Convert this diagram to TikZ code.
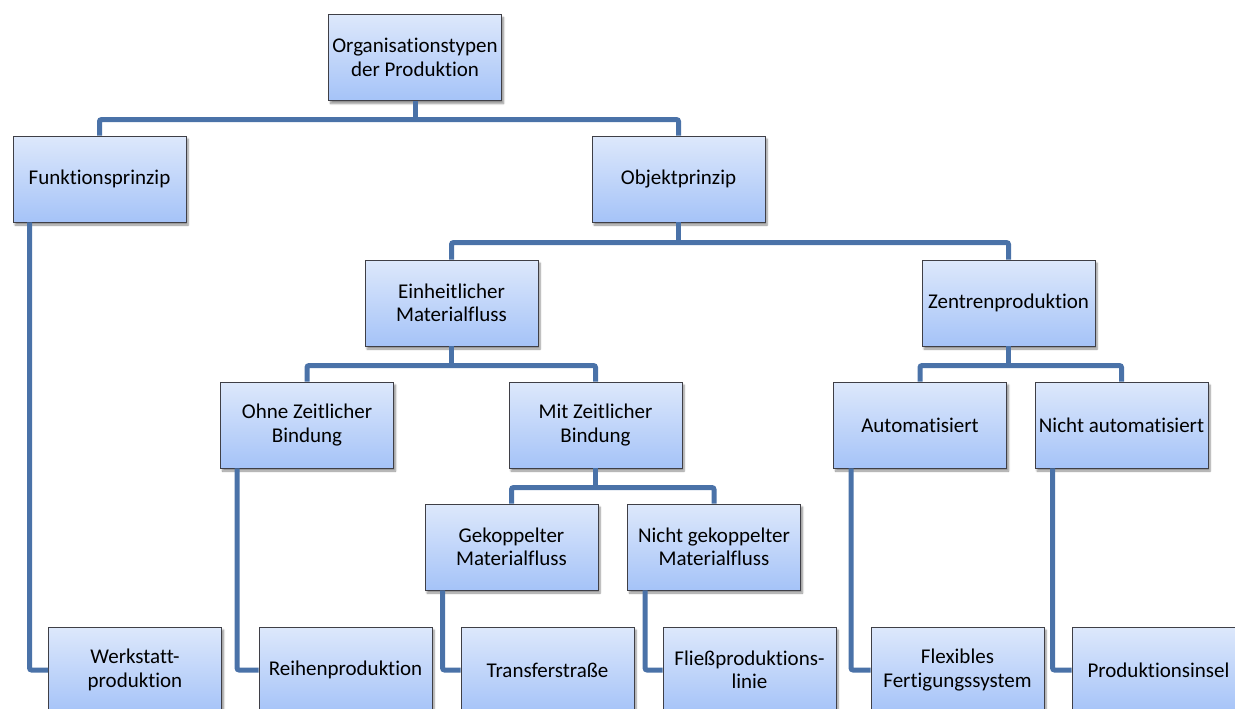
\documentclass[tikz,border=0pt]{standalone}
\usepackage{fontspec}
\setmainfont{Carlito}[Ligatures={NoCommon}]
\usetikzlibrary{shadows.blur}
\definecolor{boxtop}{HTML}{DDE8FB}
\definecolor{boxbottom}{HTML}{A5C3F8}
\definecolor{boxborder}{HTML}{3F3F46}
\definecolor{linkblue}{HTML}{4A72A8}
\tikzset{
  orgbox/.style={
    draw=boxborder, line width=0.9pt,
    top color=boxtop, bottom color=boxbottom,
    minimum width=173pt, minimum height=86pt, inner sep=0pt,
    align=center, font=\fontsize{21}{23.5}\selectfont,
    blur shadow={shadow xshift=2pt, shadow yshift=-3pt, shadow blur steps=6, shadow opacity=45}
  },
  link/.style={draw=linkblue, line width=5pt, rounded corners=2pt}
}
\begin{document}
\begin{tikzpicture}[x=1pt, y=-1pt]
  \useasboundingbox (0,0) rectangle (1235,709);

  % level 0 and 1
  \node[orgbox] (root) at (415,57.5) {Organisationstypen\\der Produktion};
  \node[orgbox] (funk) at (99.5,179) {Funktionsprinzip};
  \node[orgbox] (obj)  at (678.5,179) {Objektprinzip};

  % level 2
  \node[orgbox] (einh) at (451.5,303) {Einheitlicher\\Materialfluss};
  \node[orgbox] (zent) at (1008.5,303) {Zentrenproduktion};

  % level 3
  \node[orgbox] (ohne)  at (307,425) {Ohne Zeitlicher\\Bindung};
  \node[orgbox] (mit)   at (595.5,425) {Mit Zeitlicher\\Bindung};
  \node[orgbox] (auto)  at (920,425) {Automatisiert};
  \node[orgbox] (nauto) at (1121.5,425) {Nicht automatisiert};

  % level 4
  \node[orgbox] (gek)  at (511.5,547) {Gekoppelter\\Materialfluss};
  \node[orgbox] (ngek) at (714,547) {Nicht gekoppelter\\Materialfluss};

  % resulting production types
  \node[orgbox] (werk)   at (135,670)    {Werkstatt-\\produktion};
  \node[orgbox] (reihe)  at (345.5,670)  {Reihenproduktion};
  \node[orgbox] (trans)  at (547.5,670)  {Transferstraße};
  \node[orgbox] (fliess) at (749.5,670)  {Fließproduktions-\\linie};
  \node[orgbox] (flex)   at (957.5,670)  {Flexibles\\Fertigungssystem};
  \node[orgbox] (insel)  at (1158.5,670) {Produktionsinsel};

  % tree buses
  \draw[link] (funk.north) -- ++(0,-16) coordinate (b1) -| (obj.north);
  \draw[link] (root.south) -- (root.south |- b1);

  \draw[link] (einh.north) -- ++(0,-17) coordinate (b2) -| (zent.north);
  \draw[link] (obj.south) -- (obj.south |- b2);

  \draw[link] (ohne.north) -- ++(0,-16) coordinate (b3) -| (mit.north);
  \draw[link] (einh.south) -- (einh.south |- b3);

  \draw[link] (auto.north) -- ++(0,-16) coordinate (b4) -| (nauto.north);
  \draw[link] (zent.south) -- (zent.south |- b4);

  \draw[link] (gek.north) -- ++(0,-16) coordinate (b5) -| (ngek.north);
  \draw[link] (mit.south) -- (mit.south |- b5);

  % side links down to the production types
  \draw[link] ([xshift=17pt]funk.south west)  |- (werk.west);
  \draw[link] ([xshift=17pt]ohne.south west)  |- (reihe.west);
  \draw[link] ([xshift=18pt]gek.south west)   |- (trans.west);
  \draw[link] ([xshift=18pt]ngek.south west)  |- (fliess.west);
  \draw[link] ([xshift=18pt]auto.south west)  |- (flex.west);
  \draw[link] ([xshift=18pt]nauto.south west) |- (insel.west);
\end{tikzpicture}
\end{document}
